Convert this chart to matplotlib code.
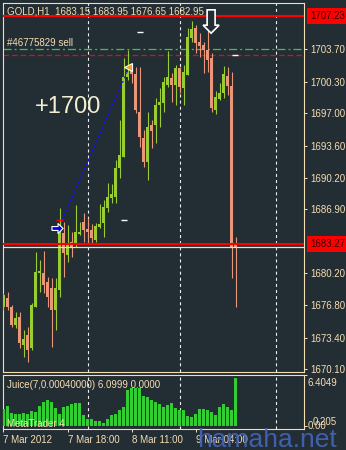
import matplotlib
matplotlib.use('Agg')
import matplotlib.pyplot as plt
from matplotlib.patches import FancyArrow

plt.rcParams['font.family'] = ['Liberation Sans', 'DejaVu Sans']
plt.rcParams['font.size'] = 7
plt.rcParams['lines.scale_dashes'] = False

# GOLD H1 candles, oldest first
opens = [1676.63, 1677.58, 1676.63, 1674.74, 1675.58, 1672.64, 1673.69, 1672.33, 1676.63, 1680.20,
         1680.20, 1679.26, 1678.63, 1676.32, 1678.42, 1684.41, 1682.10, 1683.46, 1683.15, 1684.30,
         1685.56, 1684.83, 1684.72, 1683.67, 1685.04, 1685.46, 1687.03, 1688.08, 1688.19, 1691.23,
         1692.39, 1700.79, 1701.42, 1701.11, 1697.12, 1694.38, 1691.86, 1695.75, 1695.75, 1697.85,
         1698.06, 1699.95, 1700.69, 1699.95, 1701.74, 1699.64, 1701.00, 1704.89, 1705.94, 1704.47,
         1704.15, 1703.63, 1702.79, 1697.33, 1698.48, 1699.11, 1700.90, 1699.85, 1683.15]
highs = [1678.10, 1678.21, 1676.84, 1676.11, 1676.11, 1674.22, 1674.53, 1677.05, 1682.41, 1681.57,
         1682.52, 1679.78, 1679.68, 1679.68, 1687.03, 1685.56, 1685.25, 1684.51, 1687.35, 1685.56,
         1686.51, 1685.98, 1685.35, 1685.46, 1687.45, 1687.87, 1689.66, 1689.55, 1692.07, 1696.28,
         1702.79, 1703.63, 1702.05, 1701.84, 1701.84, 1695.23, 1697.12, 1696.28, 1698.59, 1699.64,
         1700.79, 1703.52, 1701.21, 1702.05, 1701.84, 1702.05, 1705.94, 1706.67, 1706.25, 1705.41,
         1704.47, 1706.78, 1703.31, 1699.32, 1700.16, 1701.95, 1701.84, 1701.32, 1683.95]
lows = [1676.32, 1676.32, 1674.53, 1674.43, 1672.33, 1671.38, 1670.86, 1672.12, 1676.63, 1678.21,
        1678.10, 1676.63, 1672.43, 1674.22, 1677.68, 1679.78, 1681.36, 1681.89, 1682.94, 1684.20,
        1683.46, 1683.36, 1683.36, 1683.46, 1684.93, 1683.99, 1686.61, 1687.56, 1687.56, 1690.18,
        1692.39, 1700.48, 1700.16, 1697.01, 1693.44, 1691.35, 1689.97, 1693.33, 1693.86, 1695.54,
        1697.12, 1699.74, 1698.17, 1697.85, 1699.11, 1697.85, 1701.00, 1704.47, 1703.31, 1702.89,
        1701.21, 1701.32, 1697.12, 1696.91, 1698.38, 1698.59, 1698.90, 1679.68, 1676.65]
closes = [1677.89, 1676.63, 1674.74, 1675.48, 1672.85, 1673.27, 1672.12, 1676.84, 1680.31, 1680.41,
          1678.94, 1677.68, 1676.32, 1678.63, 1684.41, 1682.31, 1683.15, 1682.94, 1684.51, 1684.51,
          1684.72, 1684.51, 1683.88, 1685.15, 1685.35, 1687.14, 1688.19, 1688.50, 1691.23, 1692.60,
          1700.79, 1701.32, 1701.11, 1697.33, 1694.49, 1691.86, 1695.54, 1695.12, 1697.85, 1698.17,
          1700.27, 1700.79, 1699.95, 1701.74, 1699.74, 1701.32, 1704.99, 1705.83, 1704.36, 1704.05,
          1703.63, 1702.58, 1697.54, 1698.69, 1699.11, 1701.11, 1699.85, 1682.94, 1682.95]

# Juice(7, 0.0004) histogram
juice = [2.17, 2.58, 1.64, 1.56, 1.48, 1.64, 1.56, 1.85, 1.76, 2.58,
         3.08, 3.32, 2.99, 2.26, 1.56, 2.38, 2.58, 2.79, 2.87, 2.87,
         1.35, 0.82, 0.82, 0.62, 0.62, 0.41, 0.94, 1.35, 1.56, 1.97,
         2.46, 4.55, 4.84, 4.84, 4.76, 3.81, 3.61, 3.28, 2.99, 2.79,
         2.38, 2.71, 2.87, 2.30, 1.97, 1.97, 1.23, 1.15, 1.56, 2.17,
         2.17, 1.97, 1.76, 1.35, 2.46, 2.79, 2.38, 1.97, 6.0999]

price_ticks = [1703.70, 1700.30, 1697.00, 1693.60, 1690.20, 1686.90, 1680.20, 1676.80, 1673.40, 1670.10]
time_labels = ['7 Mar 2012', '7 Mar 18:00', '8 Mar 11:00', '9 Mar 04:00']
time_bars = [0, 16, 32, 48]
separators = [21, 44, 68]

high_line = 1707.23
order_line = 1683.27
tp_line = 1703.70
sell_line = 1703.10

# closed trade: buy arrow, close mark, connecting line
buy_mark = (13.4, 1684.93)
close_mark = (31.1, 1701.84)
trade_bars = [14.6, 30.9]
trade_prices = [1685.77, 1701.30]
open_level = 1685.77
hilo_bars = [34.05, 30.0, 57.9]
hilo_prices = [1705.55, 1685.77, 1703.10]
sell_arrow = (51.9, 1707.85, 1705.40)

bg = '#232d34'
fg = '#f5deb3'
bull = '#9acd32'
bear = '#e9967a'
W, H = 346, 450

fig = plt.figure(figsize=(3.46, 4.5), dpi=100, facecolor=bg)
ax = fig.add_axes([3 / W, 1 - 372 / H, 301 / W, 369 / H], facecolor=bg)
sub = fig.add_axes([3 / W, 1 - 429 / H, 301 / W, 54 / H], facecolor=bg)

# candles
xs = list(range(len(opens)))
cols = [bull if c >= o else bear for o, c in zip(opens, closes)]
ax.vlines(xs, lows, highs, colors=cols, lw=0.8, zorder=3)
bottoms = [min(o, c) for o, c in zip(opens, closes)]
heights = [max(abs(c - o), 0.1) for o, c in zip(opens, closes)]
ax.bar(xs, heights, 0.75, bottoms, color=cols, lw=0, zorder=3)

# levels
ax.axhline(high_line, color='red', lw=1.5, zorder=4)
ax.axhline(order_line, color='red', lw=1.5, zorder=4)
ax.axhline(closes[-1], color=fg, lw=0.9, zorder=4)
ax.axhline(tp_line, color='#32cd32', lw=0.9, ls=(0, (5.8, 2.2, 1.4, 2.2)), zorder=2)
ax.axhline(sell_line, color='red', lw=0.9, ls=(0, (4, 2.2)), zorder=2)

for s in separators:
    ax.axvline(s, color='#eeeeee', lw=0.8, ls=(0, (2.2, 2.2)), zorder=1)
    sub.axvline(s, color='#eeeeee', lw=0.8, ls=(0, (2.2, 2.2)), zorder=1)

# trade marks
ax.plot(trade_bars, trade_prices, color='#1010ff', lw=0.9, ls=(0, (1.4, 2.2)), zorder=5)
ax.hlines(open_level, buy_mark[0] - 0.3, buy_mark[0] + 1.5, color='red', lw=1, zorder=5)
arrow = [(-1, -0.35), (0.1, -0.35), (0.1, -0.9), (1, 0), (0.1, 0.9), (0.1, 0.35), (-1, 0.35), (-1, -0.35)]
ax.plot(*buy_mark, marker=arrow, ms=8, mfc='#0000ee', mec='white', mew=0.8, zorder=6)
ax.plot(*close_mark, marker='<', ms=6, mfc='#e8a020', mec='white', mew=0.8, zorder=6)
for b, p in zip(hilo_bars, hilo_prices):
    ax.hlines(p, b - 0.75, b + 0.75, color='white', lw=1, zorder=5)
ax.add_patch(FancyArrow(sell_arrow[0], sell_arrow[1], 0, sell_arrow[2] - sell_arrow[1],
                        width=2, head_width=4, head_length=0.84, length_includes_head=True,
                        fc=bg, ec='white', lw=1.2, zorder=7))

ax.set_xlim(-0.125, 75.125)
ax.set_ylim(1669.81, 1708.57)
ax.set_xticks([])
ax.yaxis.tick_right()
ax.set_yticks(price_ticks)
ax.set_yticklabels([f'{p:.2f}' for p in price_ticks])
ax.tick_params(axis='y', colors=fg, length=2.2, width=0.72, pad=2.6, labelsize=7)

for a in (ax, sub):
    for sp in a.spines.values():
        sp.set_color(fg)
        sp.set_linewidth(0.8)

for val in (high_line, order_line):
    ax.annotate(f'{val:.2f}', xy=(1, val), xycoords=('axes fraction', 'data'),
                xytext=(6, 0), textcoords='offset pixels', va='center', ha='left',
                color='#300000', fontsize=7,
                bbox=dict(boxstyle='square,pad=0.3', fc='#ff0000', ec='none'))

# juice panel
sub.bar(xs, juice, 0.75, color='#32cd32', lw=0, zorder=3)
sub.set_xlim(-0.125, 75.125)
sub.set_ylim(-0.38, 6.44)
sub.yaxis.tick_right()
sub.set_yticks([6.4049, 0.0])
sub.tick_params(axis='y', colors=fg, length=2.2, width=0.72, labelright=False)
sub.set_xticks(time_bars)
sub.set_xticklabels(time_labels, ha='left')
sub.tick_params(axis='x', colors=fg, length=2.2, width=0.72, pad=2.2, labelsize=7)
for lab, val, dx, dy in [('6.4049', 6.4049, 4, -8), ('0.205', 0.205, 9, 2), ('0.00', 0.0, 4, 0)]:
    sub.annotate(lab, xy=(1, val), xycoords=('axes fraction', 'data'), xytext=(dx, dy),
                 textcoords='offset pixels', va='center', ha='left', color=fg, fontsize=7,
                 annotation_clip=False)

# texts
title = f'GOLD,H1  {opens[-1]:.2f} {highs[-1]:.2f} {lows[-1]:.2f} {closes[-1]:.2f}'
fig.text(7 / W, 1 - 14 / H, title, color=fg, fontsize=7, va='baseline')
fig.text(7 / W, 1 - 46.5 / H, '#46775829 sell', color=fg, fontsize=7, va='baseline')
fig.text(35 / W, 1 - 112.7 / H, '+1700', color='#f3efcf', fontsize=17, va='baseline')
fig.text(7 / W, 1 - 388 / H, f'Juice(7,0.00040000) {juice[-1]:.4f} 0.0000', color=fg, fontsize=7, va='baseline')
fig.text(7 / W, 1 - 427 / H, 'MetaTrader 4', color=fg, fontsize=7, va='baseline')
fig.text(197 / W, 1 - 447 / H, 'hamaha.net', color='#4466bb', fontsize=19, va='baseline', alpha=0.9)

fig.savefig('out.png', dpi=100, facecolor=bg)
